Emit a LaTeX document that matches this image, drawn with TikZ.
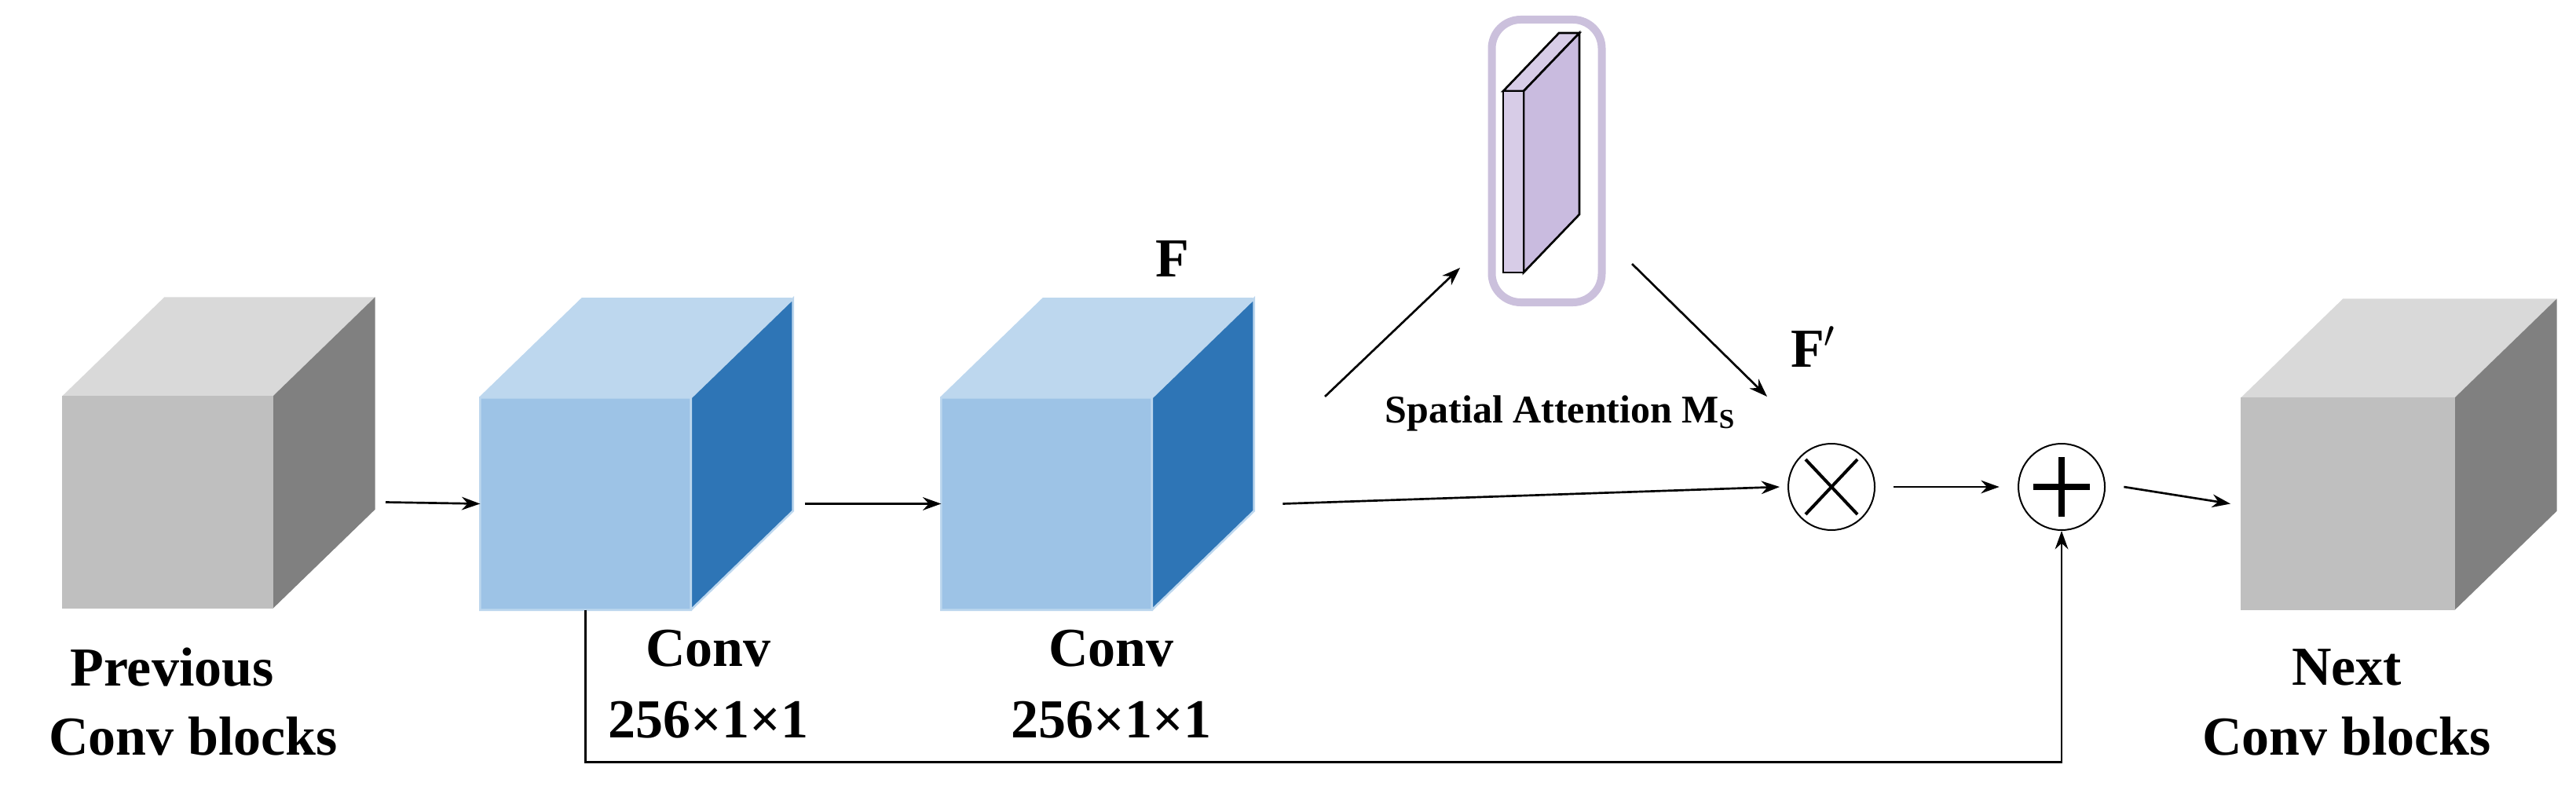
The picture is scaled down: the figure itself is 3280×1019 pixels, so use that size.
\documentclass[tikz,border=0pt]{standalone}
\usepackage{fontspec}
\setmainfont{Liberation Serif}
\usetikzlibrary{arrows.meta,calc}
\definecolor{gtop}{HTML}{D9D9D9}\definecolor{gfront}{HTML}{BFBFBF}\definecolor{gside}{HTML}{808080}
\definecolor{btop}{HTML}{BDD7EE}\definecolor{bfront}{HTML}{9DC3E6}\definecolor{bside}{HTML}{2E75B6}
\definecolor{lav}{HTML}{CBC0DC}\definecolor{slab}{HTML}{C9BBDF}
\begin{document}
\begin{tikzpicture}[x=0.3pt,y=-0.3pt,
  front/.style={inner sep=0,minimum width=80.1pt,minimum height=80.7pt},
  lbl/.style={font=\bfseries\fontsize{21}{25}\selectfont,align=center},
  arr/.style={-{Stealth[length=7pt,width=5pt]},line width=0.8pt},
  op/.style={ellipse,draw,line width=0.6pt,minimum width=31pt,minimum height=34pt,inner sep=0}]
\useasboundingbox (0,0) rectangle (3280,1019);
\newcommand\cubeblk[4]{%
  \fill[#2] (#1.north west) -- ++(130,-126) -- ($(#1.north east)+(130,-126)$) -- (#1.north east) -- cycle;
  \fill[#4] (#1.north east) -- ++(130,-126) -- ($(#1.south east)+(130,-126)$) -- (#1.south east) -- cycle;
  \fill[#3] (#1.north west) rectangle (#1.south east);}
\node[front] (c1) at (213.5,639.5) {};
\node[front] (c2) at (745.5,641.5) {};
\node[front] (c3) at (1332.5,641.5) {};
\node[front,minimum width=81.3pt] (c4) at (2989.5,641.5) {};
\cubeblk{c1}{gtop}{gfront}{gside}
\cubeblk{c2}{btop}{bfront}{bside}
\cubeblk{c3}{btop}{bfront}{bside}
\cubeblk{c4}{gtop}{gfront}{gside}
\foreach \c in {c2,c3}{\draw[btop,line width=0.8pt] (\c.south west) rectangle (\c.north east) -- ++(130,-126) -- ($(\c.south east)+(130,-126)$) -- (\c.south east);
 \draw[btop,line width=0.8pt] (\c.north west) -- ++(130,-126) -- ++(267,0);}
% attention
\node[draw=lav,line width=3pt,rounded corners=11pt,minimum width=42pt,minimum height=108pt,inner sep=0] (att) at (1969.5,205) {};
\draw[fill=slab!75!white,line width=0.8pt] (1914,116) -- (1940,116) -- (2011,42) -- (1985,42) -- cycle;
\draw[fill=slab,line width=0.8pt] (1940,116) -- (2011,42) -- (2011,273) -- (1940,347) -- cycle;
\draw[fill=slab!75!white,line width=0.8pt] (1914,116) rectangle (1940,347);
\node[circle,draw,line width=0.6pt,minimum size=33pt,inner sep=0] (mul) at (2332,620) {};
\node[circle,draw,line width=0.6pt,minimum size=33pt,inner sep=0] (add) at (2625,620) {};
\draw[line width=1.2pt] ([shift={(-33,-35)}]mul.center) -- ([shift={(33,35)}]mul.center)
  ([shift={(33,-35)}]mul.center) -- ([shift={(-33,35)}]mul.center);
\draw[line width=2.4pt] ([shift={(0,-38)}]add.center) -- ([shift={(0,38)}]add.center)
  ([shift={(-36,0)}]add.center) -- ([shift={(36,0)}]add.center);
\coordinate (u1) at (1687,505); \coordinate (u2) at (1859,341);
\coordinate (d1) at (2078,336); \coordinate (d2) at (2250,505);
\draw[arr] ([xshift=43pt]c1.east) -- (c2.west);
\draw[arr] ([xshift=43.5pt]c2.east) -- (c3.west);
\draw[arr] ([xshift=50pt]c3.east) -- ([xshift=-3pt]mul.west);
\draw[arr] ([xshift=7pt]mul.east) -- ([xshift=-7pt]add.west);
\draw[arr] ([xshift=7pt]add.east) -- ([xshift=-4pt]c4.west);
\draw[arr] (u1) -- (u2);
\draw[arr] (d1) -- (d2);
\draw[arr] (c2.south) -- ++(0,194) -| (add.south);
\node[lbl] (t1) at (219,850) {Previous};
\node[lbl] (t2) at (246,938) {Conv blocks};
\node[lbl] (t3) at (902,826) {Conv};
\node[lbl] (t4) at (902,917) {256×1×1};
\node[lbl] (t5) at (1415,826) {Conv};
\node[lbl] (t6) at (1415,917) {256×1×1};
\node[lbl] (t7) at (2988,850) {Next};
\node[lbl] (t8) at (2988,938) {Conv blocks};
\node[lbl] (tf) at (1493,330) {F};
\node[lbl] (tf2) at (2309,442) {F$'$};
\node[font=\bfseries\fontsize{15}{18}\selectfont] (sa) at (1987,526) {Spatial Attention M\textsubscript{S}};
\end{tikzpicture}
\end{document}
